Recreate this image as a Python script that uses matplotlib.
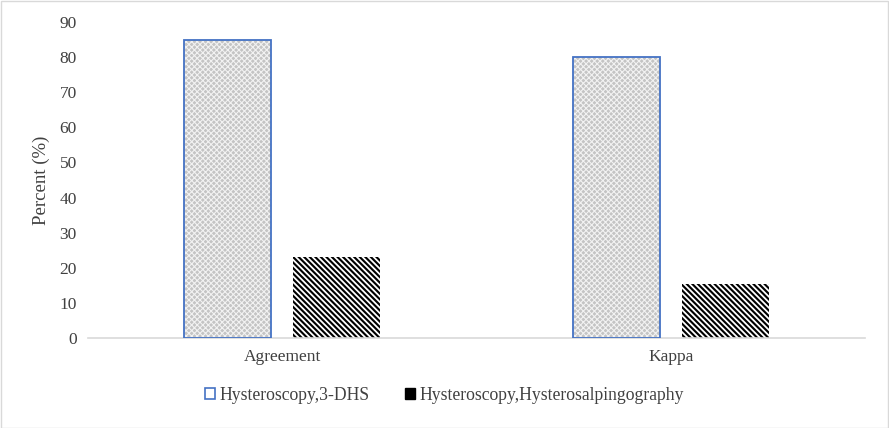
import matplotlib
matplotlib.use("Agg")
import matplotlib.pyplot as plt
import numpy as np
from matplotlib.patches import Rectangle

categories = ["Agreement", "Kappa"]
series_names = ["Hysteroscopy,3-DHS", "Hysteroscopy,Hysterosalpingography"]
values_3dhs = [85, 80]
values_hsg = [23, 15.4]
yticks = [0, 10, 20, 30, 40, 50, 60, 70, 80, 90]

plt.rcParams['font.family'] = ['Liberation Serif', 'DejaVu Serif']
plt.rcParams['hatch.linewidth'] = 1.3

fig = plt.figure(figsize=(8.89, 4.28), dpi=100)
ax = fig.add_axes([88/889, 1-338/428, (865-88)/889, (338-22)/428])

x = np.arange(len(categories))
w = 0.224
off = (w + 0.057) / 2

# series 1: light grey dotted fill with blue edge
b1 = ax.bar(x - off, values_3dhs, w, color='#c4c4c4', edgecolor='#f2f2f2', hatch='x' * 6, linewidth=0, zorder=2)
for p in b1:
    if hasattr(p, 'set_hatch_linewidth'):
        p.set_hatch_linewidth(0.8)
ax.bar(x - off, values_3dhs, w, fill=False, edgecolor='#4472C4', linewidth=1.3, zorder=3)
# series 2: black with white diagonal stripes
b2 = ax.bar(x + off, values_hsg, w, color='black', edgecolor='white', hatch='\\' * 6, linewidth=0, zorder=2)
for p in b2:
    if hasattr(p, 'set_hatch_linewidth'):
        p.set_hatch_linewidth(1.3)

ax.set_xlim(-0.5, 1.5)
ax.set_ylim(0, 90)
ax.set_yticks(yticks)
ax.set_xticks(x)
ax.set_xticklabels(categories)
ax.tick_params(length=0, labelsize=12.5, colors='#404040', pad=8)
ax.tick_params(axis='x', pad=8)
for s in ['top', 'right', 'left']:
    ax.spines[s].set_visible(False)
ax.spines['bottom'].set_color('#d9d9d9')
ax.spines['bottom'].set_linewidth(1.2)
ax.set_ylabel("Percent (%)", fontsize=13.5, color='#404040', labelpad=7)

h1 = Rectangle((0, 0), 1, 1, facecolor='white', edgecolor='#4472C4', linewidth=1.2)
h2 = Rectangle((0, 0), 1, 1, facecolor='black', edgecolor='black')
fig.legend([h1, h2], series_names, loc='center', bbox_to_anchor=(0.5, 1-395/428),
           ncol=2, frameon=False, prop={'family': ['Liberation Serif'], 'size': 12.7},
           handlelength=0.55, handleheight=0.55,
           handletextpad=0.25, columnspacing=2.0, labelcolor='#404040')

border = Rectangle((0.5/889, 0.5/428), 1-1.5/889, 1-1.5/428, transform=fig.transFigure,
                   fill=False, edgecolor='#d9d9d9', linewidth=1)
fig.patches.append(border)

fig.savefig("out.png", dpi=100)
